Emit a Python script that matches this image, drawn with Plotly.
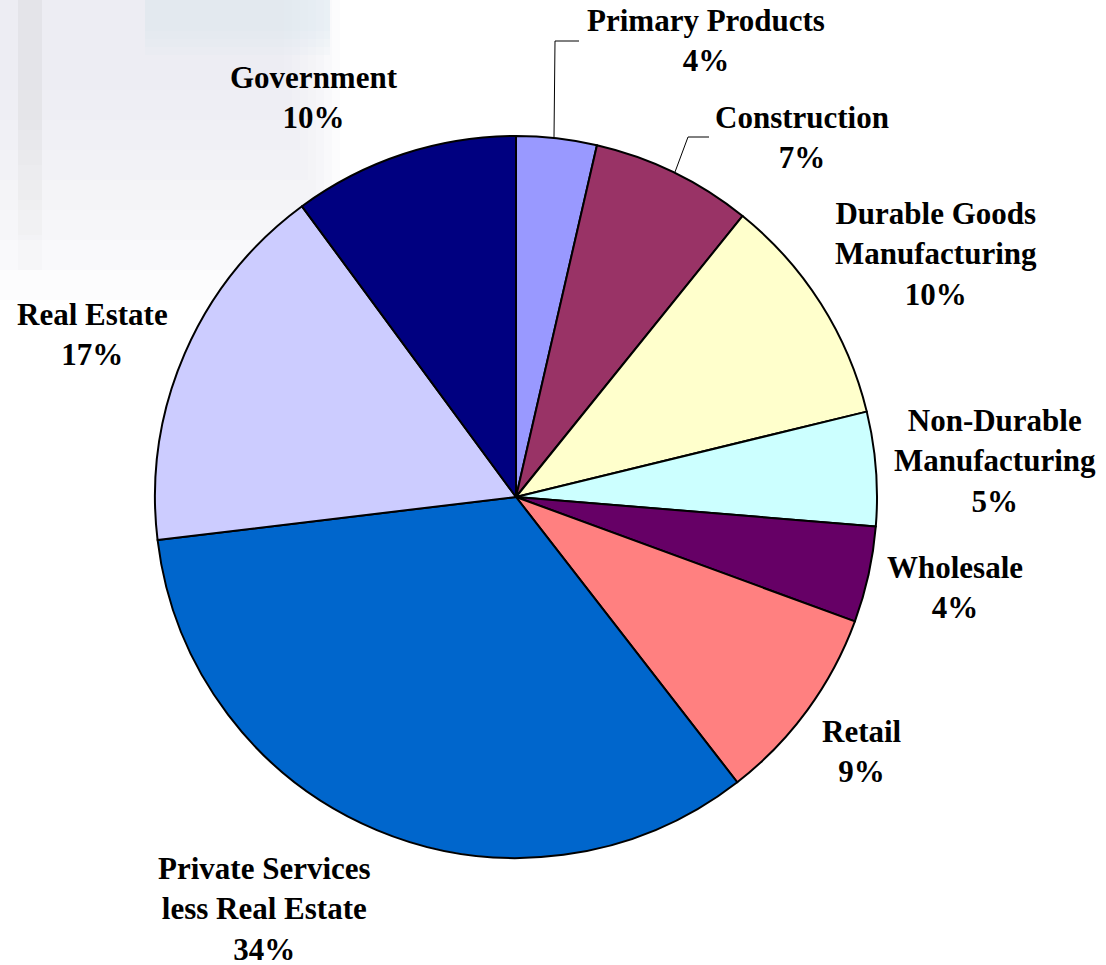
import plotly.graph_objects as go

# Industry shares of output (percent of total)
sectors = [
    "Primary Products", "Construction", "Durable Goods Manufacturing",
    "Non-Durable Manufacturing", "Wholesale", "Retail",
    "Private Services less Real Estate", "Real Estate", "Government",
]
label_lines = [
    "Primary Products", "Construction", "Durable Goods<br>Manufacturing",
    "Non-Durable<br>Manufacturing", "Wholesale", "Retail",
    "Private Services<br>less Real Estate", "Real Estate", "Government",
]
shares = [3.6, 7.2, 10.4, 5.1, 4.3, 8.9, 33.6, 16.8, 10.1]
colors = [
    "#9999FF", "#993366", "#FFFFCC", "#CCFFFF", "#660066",
    "#FF8080", "#0066CC", "#CCCCFF", "#000080",
]

W, H = 1106, 965
CX, CY, R = 516, 497, 361


def px(x):
    return x / W


def py(y):
    return 1 - y / H


fig = go.Figure(go.Pie(
    labels=sectors,
    values=shares,
    sort=False,
    direction="clockwise",
    rotation=0,
    marker=dict(colors=colors, line=dict(color="black", width=2)),
    textinfo="none",
    hoverinfo="label+percent",
    showlegend=False,
    domain=dict(x=[px(CX - R), px(CX + R)], y=[py(CY + R), py(CY - R)]),
))

# Label placement (text-block centres, in pixels)
label_pos = [
    (706, 41), (802, 137), (936, 254), (995, 461), (955, 587),
    (862, 751), (264, 909), (92, 334), (314, 97),
]
total = sum(shares)
annotations = []
for text, val, (lx, ly) in zip(label_lines, shares, label_pos):
    pct = round(val / total * 100)
    annotations.append(dict(
        x=px(lx), y=py(ly), xref="paper", yref="paper",
        text=f"<b>{text}<br>{pct}%</b>", showarrow=False,
        xanchor="center", yanchor="middle", align="center",
        font=dict(family="Liberation Serif", size=31, color="black"),
    ))

shapes = []
# Faded backdrop in the upper-left corner, built from soft stacked layers
# that thin out towards the bottom
for i in range(8):
    y1 = 300 - i * 30
    shapes.append(dict(type="rect", xref="paper", yref="paper",
                       x0=0, x1=px(340 - i * 8), y0=py(y1), y1=1,
                       fillcolor="#e9eaec", opacity=0.12,
                       line=dict(width=0), layer="below"))
for i in range(5):
    shapes.append(dict(type="rect", xref="paper", yref="paper",
                       x0=px(18), x1=px(42), y0=py(270 - i * 35), y1=1,
                       fillcolor="#d8d9dc", opacity=0.08,
                       line=dict(width=0), layer="below"))
for i in range(4):
    shapes.append(dict(type="rect", xref="paper", yref="paper",
                       x0=px(145), x1=px(330), y0=py(55 - i * 8), y1=1,
                       fillcolor="#d9e3ef", opacity=0.12,
                       line=dict(width=0), layer="below"))

# Leader lines for the two small top slices
leaders = [
    [(554, 137), (555, 41), (579, 41)],
    [(675, 172), (688, 137), (709, 137)],
]
for pts in leaders:
    path = "M " + " L ".join(f"{px(x)},{py(y)}" for x, y in pts)
    shapes.append(dict(type="path", xref="paper", yref="paper", path=path,
                       line=dict(color="black", width=1)))

fig.update_layout(
    width=W, height=H,
    margin=dict(l=0, r=0, t=0, b=0),
    paper_bgcolor="white",
    plot_bgcolor="white",
    annotations=annotations,
    shapes=shapes,
)

fig.write_html("out.html")
